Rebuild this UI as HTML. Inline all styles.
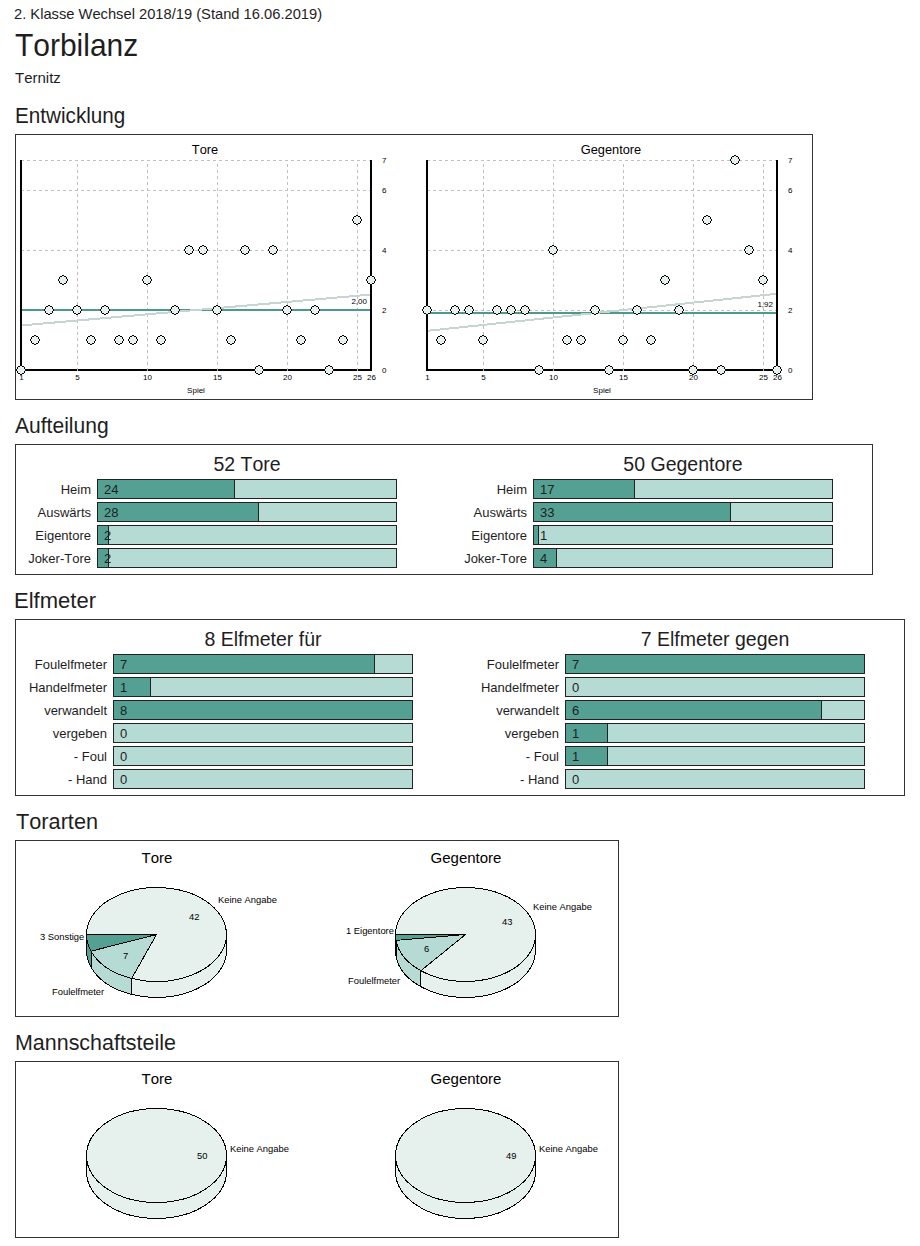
<!DOCTYPE html>
<html><head><meta charset="utf-8"><title>Torbilanz</title>
<style>
html,body{margin:0;padding:0;background:#fff;}
body{width:920px;height:1246px;position:relative;overflow:hidden;font-family:"Liberation Sans",sans-serif;color:#1e1e1e;font-kerning:none;}
.a{position:absolute;white-space:nowrap;line-height:0;margin:0;font-weight:normal;transform-origin:0 0;}
.box{position:absolute;border:1px solid #333;box-sizing:border-box;}
.h2{position:absolute;margin:0;font-weight:normal;font-size:22.5px;line-height:0;white-space:nowrap;transform-origin:0 0;}
.lab{position:absolute;width:200px;text-align:right;font-size:13px;line-height:0;white-space:nowrap;}
.bar{position:absolute;width:300px;height:20px;box-sizing:border-box;border:1px solid #222;background:#b6dbd4;}
.bar .f{position:absolute;left:0;top:0;height:18px;box-sizing:border-box;background:#54a093;border-right:1px solid #222;}
.bar .v{position:absolute;left:6px;top:10px;font-size:13px;line-height:0;}
.ttl{position:absolute;width:300px;text-align:center;font-size:19.5px;line-height:0;white-space:nowrap;}
svg{position:absolute;left:0;top:0;}
svg text{font-family:"Liberation Sans",sans-serif;fill:#000;}
</style></head><body>
<div class="a" style="left:14px;top:14px;font-size:15px;transform:scaleX(0.98)">2. Klasse Wechsel 2018/19 (Stand 16.06.2019)</div>
<h1 class="a" style="left:15px;top:45px;font-size:30.5px;transform:scaleX(0.982)">Torbilanz</h1>
<div class="a" style="left:15px;top:78px;font-size:15px">Ternitz</div>

<h2 class="h2" style="left:15px;top:116px;transform:scaleX(0.919)">Entwicklung</h2>
<div class="box" style="left:15px;top:134px;width:798px;height:266px"></div>
<svg width="920" height="410" viewBox="0 0 920 410">

<line x1="21" y1="310.5" x2="370" y2="310.5" stroke="#c0c0c0" stroke-dasharray="3 3"/>
<line x1="21" y1="250.5" x2="370" y2="250.5" stroke="#c0c0c0" stroke-dasharray="3 3"/>
<line x1="21" y1="190.5" x2="370" y2="190.5" stroke="#c0c0c0" stroke-dasharray="3 3"/>
<line x1="21" y1="160.5" x2="370" y2="160.5" stroke="#c0c0c0" stroke-dasharray="3 3"/>
<rect x="20" y="160" width="2" height="211" fill="#000"/>
<rect x="370" y="160" width="2" height="211" fill="#000"/>
<rect x="20" y="369" width="352" height="2" fill="#000"/>
<line x1="77.5" y1="164" x2="77.5" y2="371" stroke="#c0c0c0" stroke-dasharray="3 3"/>
<line x1="147.5" y1="164" x2="147.5" y2="371" stroke="#c0c0c0" stroke-dasharray="3 3"/>
<line x1="217.5" y1="164" x2="217.5" y2="371" stroke="#c0c0c0" stroke-dasharray="3 3"/>
<line x1="287.5" y1="164" x2="287.5" y2="371" stroke="#c0c0c0" stroke-dasharray="3 3"/>
<line x1="357.5" y1="164" x2="357.5" y2="371" stroke="#c0c0c0" stroke-dasharray="3 3"/>
<rect x="22" y="309" width="348" height="2" fill="#4c9a8b"/>
<line x1="22" y1="325.38" x2="370" y2="294.62" stroke="#c5d5d4" stroke-width="2" shape-rendering="crispEdges"/>
<path d="M20,366h2v1h2v2h1v2h-1v2h-2v1h-2v-1h-2v-2h-1v-2h1v-2h2zM34,336h2v1h2v2h1v2h-1v2h-2v1h-2v-1h-2v-2h-1v-2h1v-2h2zM48,306h2v1h2v2h1v2h-1v2h-2v1h-2v-1h-2v-2h-1v-2h1v-2h2zM62,276h2v1h2v2h1v2h-1v2h-2v1h-2v-1h-2v-2h-1v-2h1v-2h2zM76,306h2v1h2v2h1v2h-1v2h-2v1h-2v-1h-2v-2h-1v-2h1v-2h2zM90,336h2v1h2v2h1v2h-1v2h-2v1h-2v-1h-2v-2h-1v-2h1v-2h2zM104,306h2v1h2v2h1v2h-1v2h-2v1h-2v-1h-2v-2h-1v-2h1v-2h2zM118,336h2v1h2v2h1v2h-1v2h-2v1h-2v-1h-2v-2h-1v-2h1v-2h2zM132,336h2v1h2v2h1v2h-1v2h-2v1h-2v-1h-2v-2h-1v-2h1v-2h2zM146,276h2v1h2v2h1v2h-1v2h-2v1h-2v-1h-2v-2h-1v-2h1v-2h2zM160,336h2v1h2v2h1v2h-1v2h-2v1h-2v-1h-2v-2h-1v-2h1v-2h2zM174,306h2v1h2v2h1v2h-1v2h-2v1h-2v-1h-2v-2h-1v-2h1v-2h2zM188,246h2v1h2v2h1v2h-1v2h-2v1h-2v-1h-2v-2h-1v-2h1v-2h2zM202,246h2v1h2v2h1v2h-1v2h-2v1h-2v-1h-2v-2h-1v-2h1v-2h2zM216,306h2v1h2v2h1v2h-1v2h-2v1h-2v-1h-2v-2h-1v-2h1v-2h2zM230,336h2v1h2v2h1v2h-1v2h-2v1h-2v-1h-2v-2h-1v-2h1v-2h2zM244,246h2v1h2v2h1v2h-1v2h-2v1h-2v-1h-2v-2h-1v-2h1v-2h2zM258,366h2v1h2v2h1v2h-1v2h-2v1h-2v-1h-2v-2h-1v-2h1v-2h2zM272,246h2v1h2v2h1v2h-1v2h-2v1h-2v-1h-2v-2h-1v-2h1v-2h2zM286,306h2v1h2v2h1v2h-1v2h-2v1h-2v-1h-2v-2h-1v-2h1v-2h2zM300,336h2v1h2v2h1v2h-1v2h-2v1h-2v-1h-2v-2h-1v-2h1v-2h2zM314,306h2v1h2v2h1v2h-1v2h-2v1h-2v-1h-2v-2h-1v-2h1v-2h2zM328,366h2v1h2v2h1v2h-1v2h-2v1h-2v-1h-2v-2h-1v-2h1v-2h2zM342,336h2v1h2v2h1v2h-1v2h-2v1h-2v-1h-2v-2h-1v-2h1v-2h2zM356,216h2v1h2v2h1v2h-1v2h-2v1h-2v-1h-2v-2h-1v-2h1v-2h2zM370,276h2v1h2v2h1v2h-1v2h-2v1h-2v-1h-2v-2h-1v-2h1v-2h2z" fill="#e6f0ec" shape-rendering="crispEdges"/>
<path d="M20,365h2v1h-2zM20,374h2v1h-2zM18,366h2v1h-2zM22,366h2v1h-2zM18,373h2v1h-2zM22,373h2v1h-2zM17,367h1v2h-1zM24,367h1v2h-1zM17,371h1v2h-1zM24,371h1v2h-1zM16,369h1v2h-1zM25,369h1v2h-1zM34,335h2v1h-2zM34,344h2v1h-2zM32,336h2v1h-2zM36,336h2v1h-2zM32,343h2v1h-2zM36,343h2v1h-2zM31,337h1v2h-1zM38,337h1v2h-1zM31,341h1v2h-1zM38,341h1v2h-1zM30,339h1v2h-1zM39,339h1v2h-1zM48,305h2v1h-2zM48,314h2v1h-2zM46,306h2v1h-2zM50,306h2v1h-2zM46,313h2v1h-2zM50,313h2v1h-2zM45,307h1v2h-1zM52,307h1v2h-1zM45,311h1v2h-1zM52,311h1v2h-1zM44,309h1v2h-1zM53,309h1v2h-1zM62,275h2v1h-2zM62,284h2v1h-2zM60,276h2v1h-2zM64,276h2v1h-2zM60,283h2v1h-2zM64,283h2v1h-2zM59,277h1v2h-1zM66,277h1v2h-1zM59,281h1v2h-1zM66,281h1v2h-1zM58,279h1v2h-1zM67,279h1v2h-1zM76,305h2v1h-2zM76,314h2v1h-2zM74,306h2v1h-2zM78,306h2v1h-2zM74,313h2v1h-2zM78,313h2v1h-2zM73,307h1v2h-1zM80,307h1v2h-1zM73,311h1v2h-1zM80,311h1v2h-1zM72,309h1v2h-1zM81,309h1v2h-1zM90,335h2v1h-2zM90,344h2v1h-2zM88,336h2v1h-2zM92,336h2v1h-2zM88,343h2v1h-2zM92,343h2v1h-2zM87,337h1v2h-1zM94,337h1v2h-1zM87,341h1v2h-1zM94,341h1v2h-1zM86,339h1v2h-1zM95,339h1v2h-1zM104,305h2v1h-2zM104,314h2v1h-2zM102,306h2v1h-2zM106,306h2v1h-2zM102,313h2v1h-2zM106,313h2v1h-2zM101,307h1v2h-1zM108,307h1v2h-1zM101,311h1v2h-1zM108,311h1v2h-1zM100,309h1v2h-1zM109,309h1v2h-1zM118,335h2v1h-2zM118,344h2v1h-2zM116,336h2v1h-2zM120,336h2v1h-2zM116,343h2v1h-2zM120,343h2v1h-2zM115,337h1v2h-1zM122,337h1v2h-1zM115,341h1v2h-1zM122,341h1v2h-1zM114,339h1v2h-1zM123,339h1v2h-1zM132,335h2v1h-2zM132,344h2v1h-2zM130,336h2v1h-2zM134,336h2v1h-2zM130,343h2v1h-2zM134,343h2v1h-2zM129,337h1v2h-1zM136,337h1v2h-1zM129,341h1v2h-1zM136,341h1v2h-1zM128,339h1v2h-1zM137,339h1v2h-1zM146,275h2v1h-2zM146,284h2v1h-2zM144,276h2v1h-2zM148,276h2v1h-2zM144,283h2v1h-2zM148,283h2v1h-2zM143,277h1v2h-1zM150,277h1v2h-1zM143,281h1v2h-1zM150,281h1v2h-1zM142,279h1v2h-1zM151,279h1v2h-1zM160,335h2v1h-2zM160,344h2v1h-2zM158,336h2v1h-2zM162,336h2v1h-2zM158,343h2v1h-2zM162,343h2v1h-2zM157,337h1v2h-1zM164,337h1v2h-1zM157,341h1v2h-1zM164,341h1v2h-1zM156,339h1v2h-1zM165,339h1v2h-1zM174,305h2v1h-2zM174,314h2v1h-2zM172,306h2v1h-2zM176,306h2v1h-2zM172,313h2v1h-2zM176,313h2v1h-2zM171,307h1v2h-1zM178,307h1v2h-1zM171,311h1v2h-1zM178,311h1v2h-1zM170,309h1v2h-1zM179,309h1v2h-1zM188,245h2v1h-2zM188,254h2v1h-2zM186,246h2v1h-2zM190,246h2v1h-2zM186,253h2v1h-2zM190,253h2v1h-2zM185,247h1v2h-1zM192,247h1v2h-1zM185,251h1v2h-1zM192,251h1v2h-1zM184,249h1v2h-1zM193,249h1v2h-1zM202,245h2v1h-2zM202,254h2v1h-2zM200,246h2v1h-2zM204,246h2v1h-2zM200,253h2v1h-2zM204,253h2v1h-2zM199,247h1v2h-1zM206,247h1v2h-1zM199,251h1v2h-1zM206,251h1v2h-1zM198,249h1v2h-1zM207,249h1v2h-1zM216,305h2v1h-2zM216,314h2v1h-2zM214,306h2v1h-2zM218,306h2v1h-2zM214,313h2v1h-2zM218,313h2v1h-2zM213,307h1v2h-1zM220,307h1v2h-1zM213,311h1v2h-1zM220,311h1v2h-1zM212,309h1v2h-1zM221,309h1v2h-1zM230,335h2v1h-2zM230,344h2v1h-2zM228,336h2v1h-2zM232,336h2v1h-2zM228,343h2v1h-2zM232,343h2v1h-2zM227,337h1v2h-1zM234,337h1v2h-1zM227,341h1v2h-1zM234,341h1v2h-1zM226,339h1v2h-1zM235,339h1v2h-1zM244,245h2v1h-2zM244,254h2v1h-2zM242,246h2v1h-2zM246,246h2v1h-2zM242,253h2v1h-2zM246,253h2v1h-2zM241,247h1v2h-1zM248,247h1v2h-1zM241,251h1v2h-1zM248,251h1v2h-1zM240,249h1v2h-1zM249,249h1v2h-1zM258,365h2v1h-2zM258,374h2v1h-2zM256,366h2v1h-2zM260,366h2v1h-2zM256,373h2v1h-2zM260,373h2v1h-2zM255,367h1v2h-1zM262,367h1v2h-1zM255,371h1v2h-1zM262,371h1v2h-1zM254,369h1v2h-1zM263,369h1v2h-1zM272,245h2v1h-2zM272,254h2v1h-2zM270,246h2v1h-2zM274,246h2v1h-2zM270,253h2v1h-2zM274,253h2v1h-2zM269,247h1v2h-1zM276,247h1v2h-1zM269,251h1v2h-1zM276,251h1v2h-1zM268,249h1v2h-1zM277,249h1v2h-1zM286,305h2v1h-2zM286,314h2v1h-2zM284,306h2v1h-2zM288,306h2v1h-2zM284,313h2v1h-2zM288,313h2v1h-2zM283,307h1v2h-1zM290,307h1v2h-1zM283,311h1v2h-1zM290,311h1v2h-1zM282,309h1v2h-1zM291,309h1v2h-1zM300,335h2v1h-2zM300,344h2v1h-2zM298,336h2v1h-2zM302,336h2v1h-2zM298,343h2v1h-2zM302,343h2v1h-2zM297,337h1v2h-1zM304,337h1v2h-1zM297,341h1v2h-1zM304,341h1v2h-1zM296,339h1v2h-1zM305,339h1v2h-1zM314,305h2v1h-2zM314,314h2v1h-2zM312,306h2v1h-2zM316,306h2v1h-2zM312,313h2v1h-2zM316,313h2v1h-2zM311,307h1v2h-1zM318,307h1v2h-1zM311,311h1v2h-1zM318,311h1v2h-1zM310,309h1v2h-1zM319,309h1v2h-1zM328,365h2v1h-2zM328,374h2v1h-2zM326,366h2v1h-2zM330,366h2v1h-2zM326,373h2v1h-2zM330,373h2v1h-2zM325,367h1v2h-1zM332,367h1v2h-1zM325,371h1v2h-1zM332,371h1v2h-1zM324,369h1v2h-1zM333,369h1v2h-1zM342,335h2v1h-2zM342,344h2v1h-2zM340,336h2v1h-2zM344,336h2v1h-2zM340,343h2v1h-2zM344,343h2v1h-2zM339,337h1v2h-1zM346,337h1v2h-1zM339,341h1v2h-1zM346,341h1v2h-1zM338,339h1v2h-1zM347,339h1v2h-1zM356,215h2v1h-2zM356,224h2v1h-2zM354,216h2v1h-2zM358,216h2v1h-2zM354,223h2v1h-2zM358,223h2v1h-2zM353,217h1v2h-1zM360,217h1v2h-1zM353,221h1v2h-1zM360,221h1v2h-1zM352,219h1v2h-1zM361,219h1v2h-1zM370,275h2v1h-2zM370,284h2v1h-2zM368,276h2v1h-2zM372,276h2v1h-2zM368,283h2v1h-2zM372,283h2v1h-2zM367,277h1v2h-1zM374,277h1v2h-1zM367,281h1v2h-1zM374,281h1v2h-1zM366,279h1v2h-1zM375,279h1v2h-1z" fill="#000" shape-rendering="crispEdges"/>
<text x="205" y="154" font-size="12.8" text-anchor="middle">Tore</text>
<text x="382" y="163" font-size="8">7</text>
<text x="382" y="193" font-size="8">6</text>
<text x="382" y="253" font-size="8">4</text>
<text x="382" y="313" font-size="8">2</text>
<text x="382" y="373" font-size="8">0</text>
<text x="21.5" y="380" font-size="8" text-anchor="middle">1</text>
<text x="77.5" y="380" font-size="8" text-anchor="middle">5</text>
<text x="147.5" y="380" font-size="8" text-anchor="middle">10</text>
<text x="217.5" y="380" font-size="8" text-anchor="middle">15</text>
<text x="287.5" y="380" font-size="8" text-anchor="middle">20</text>
<text x="357.5" y="380" font-size="8" text-anchor="middle">25</text>
<text x="371.5" y="380" font-size="8" text-anchor="middle">26</text>
<text x="196" y="393" font-size="8" text-anchor="middle">Spiel</text>
<text x="367" y="304" font-size="8" text-anchor="end">2,00</text>
<line x1="427" y1="310.5" x2="776" y2="310.5" stroke="#c0c0c0" stroke-dasharray="3 3"/>
<line x1="427" y1="250.5" x2="776" y2="250.5" stroke="#c0c0c0" stroke-dasharray="3 3"/>
<line x1="427" y1="190.5" x2="776" y2="190.5" stroke="#c0c0c0" stroke-dasharray="3 3"/>
<line x1="427" y1="160.5" x2="776" y2="160.5" stroke="#c0c0c0" stroke-dasharray="3 3"/>
<rect x="426" y="160" width="2" height="211" fill="#000"/>
<rect x="776" y="160" width="2" height="211" fill="#000"/>
<rect x="426" y="369" width="352" height="2" fill="#000"/>
<line x1="483.5" y1="164" x2="483.5" y2="371" stroke="#c0c0c0" stroke-dasharray="3 3"/>
<line x1="553.5" y1="164" x2="553.5" y2="371" stroke="#c0c0c0" stroke-dasharray="3 3"/>
<line x1="623.5" y1="164" x2="623.5" y2="371" stroke="#c0c0c0" stroke-dasharray="3 3"/>
<line x1="693.5" y1="164" x2="693.5" y2="371" stroke="#c0c0c0" stroke-dasharray="3 3"/>
<line x1="763.5" y1="164" x2="763.5" y2="371" stroke="#c0c0c0" stroke-dasharray="3 3"/>
<rect x="428" y="312" width="348" height="2" fill="#4c9a8b"/>
<line x1="428" y1="330.77" x2="776" y2="293.85" stroke="#c5d5d4" stroke-width="2" shape-rendering="crispEdges"/>
<path d="M426,306h2v1h2v2h1v2h-1v2h-2v1h-2v-1h-2v-2h-1v-2h1v-2h2zM440,336h2v1h2v2h1v2h-1v2h-2v1h-2v-1h-2v-2h-1v-2h1v-2h2zM454,306h2v1h2v2h1v2h-1v2h-2v1h-2v-1h-2v-2h-1v-2h1v-2h2zM468,306h2v1h2v2h1v2h-1v2h-2v1h-2v-1h-2v-2h-1v-2h1v-2h2zM482,336h2v1h2v2h1v2h-1v2h-2v1h-2v-1h-2v-2h-1v-2h1v-2h2zM496,306h2v1h2v2h1v2h-1v2h-2v1h-2v-1h-2v-2h-1v-2h1v-2h2zM510,306h2v1h2v2h1v2h-1v2h-2v1h-2v-1h-2v-2h-1v-2h1v-2h2zM524,306h2v1h2v2h1v2h-1v2h-2v1h-2v-1h-2v-2h-1v-2h1v-2h2zM538,366h2v1h2v2h1v2h-1v2h-2v1h-2v-1h-2v-2h-1v-2h1v-2h2zM552,246h2v1h2v2h1v2h-1v2h-2v1h-2v-1h-2v-2h-1v-2h1v-2h2zM566,336h2v1h2v2h1v2h-1v2h-2v1h-2v-1h-2v-2h-1v-2h1v-2h2zM580,336h2v1h2v2h1v2h-1v2h-2v1h-2v-1h-2v-2h-1v-2h1v-2h2zM594,306h2v1h2v2h1v2h-1v2h-2v1h-2v-1h-2v-2h-1v-2h1v-2h2zM608,366h2v1h2v2h1v2h-1v2h-2v1h-2v-1h-2v-2h-1v-2h1v-2h2zM622,336h2v1h2v2h1v2h-1v2h-2v1h-2v-1h-2v-2h-1v-2h1v-2h2zM636,306h2v1h2v2h1v2h-1v2h-2v1h-2v-1h-2v-2h-1v-2h1v-2h2zM650,336h2v1h2v2h1v2h-1v2h-2v1h-2v-1h-2v-2h-1v-2h1v-2h2zM664,276h2v1h2v2h1v2h-1v2h-2v1h-2v-1h-2v-2h-1v-2h1v-2h2zM678,306h2v1h2v2h1v2h-1v2h-2v1h-2v-1h-2v-2h-1v-2h1v-2h2zM692,366h2v1h2v2h1v2h-1v2h-2v1h-2v-1h-2v-2h-1v-2h1v-2h2zM706,216h2v1h2v2h1v2h-1v2h-2v1h-2v-1h-2v-2h-1v-2h1v-2h2zM720,366h2v1h2v2h1v2h-1v2h-2v1h-2v-1h-2v-2h-1v-2h1v-2h2zM734,156h2v1h2v2h1v2h-1v2h-2v1h-2v-1h-2v-2h-1v-2h1v-2h2zM748,246h2v1h2v2h1v2h-1v2h-2v1h-2v-1h-2v-2h-1v-2h1v-2h2zM762,276h2v1h2v2h1v2h-1v2h-2v1h-2v-1h-2v-2h-1v-2h1v-2h2zM776,366h2v1h2v2h1v2h-1v2h-2v1h-2v-1h-2v-2h-1v-2h1v-2h2z" fill="#e6f0ec" shape-rendering="crispEdges"/>
<path d="M426,305h2v1h-2zM426,314h2v1h-2zM424,306h2v1h-2zM428,306h2v1h-2zM424,313h2v1h-2zM428,313h2v1h-2zM423,307h1v2h-1zM430,307h1v2h-1zM423,311h1v2h-1zM430,311h1v2h-1zM422,309h1v2h-1zM431,309h1v2h-1zM440,335h2v1h-2zM440,344h2v1h-2zM438,336h2v1h-2zM442,336h2v1h-2zM438,343h2v1h-2zM442,343h2v1h-2zM437,337h1v2h-1zM444,337h1v2h-1zM437,341h1v2h-1zM444,341h1v2h-1zM436,339h1v2h-1zM445,339h1v2h-1zM454,305h2v1h-2zM454,314h2v1h-2zM452,306h2v1h-2zM456,306h2v1h-2zM452,313h2v1h-2zM456,313h2v1h-2zM451,307h1v2h-1zM458,307h1v2h-1zM451,311h1v2h-1zM458,311h1v2h-1zM450,309h1v2h-1zM459,309h1v2h-1zM468,305h2v1h-2zM468,314h2v1h-2zM466,306h2v1h-2zM470,306h2v1h-2zM466,313h2v1h-2zM470,313h2v1h-2zM465,307h1v2h-1zM472,307h1v2h-1zM465,311h1v2h-1zM472,311h1v2h-1zM464,309h1v2h-1zM473,309h1v2h-1zM482,335h2v1h-2zM482,344h2v1h-2zM480,336h2v1h-2zM484,336h2v1h-2zM480,343h2v1h-2zM484,343h2v1h-2zM479,337h1v2h-1zM486,337h1v2h-1zM479,341h1v2h-1zM486,341h1v2h-1zM478,339h1v2h-1zM487,339h1v2h-1zM496,305h2v1h-2zM496,314h2v1h-2zM494,306h2v1h-2zM498,306h2v1h-2zM494,313h2v1h-2zM498,313h2v1h-2zM493,307h1v2h-1zM500,307h1v2h-1zM493,311h1v2h-1zM500,311h1v2h-1zM492,309h1v2h-1zM501,309h1v2h-1zM510,305h2v1h-2zM510,314h2v1h-2zM508,306h2v1h-2zM512,306h2v1h-2zM508,313h2v1h-2zM512,313h2v1h-2zM507,307h1v2h-1zM514,307h1v2h-1zM507,311h1v2h-1zM514,311h1v2h-1zM506,309h1v2h-1zM515,309h1v2h-1zM524,305h2v1h-2zM524,314h2v1h-2zM522,306h2v1h-2zM526,306h2v1h-2zM522,313h2v1h-2zM526,313h2v1h-2zM521,307h1v2h-1zM528,307h1v2h-1zM521,311h1v2h-1zM528,311h1v2h-1zM520,309h1v2h-1zM529,309h1v2h-1zM538,365h2v1h-2zM538,374h2v1h-2zM536,366h2v1h-2zM540,366h2v1h-2zM536,373h2v1h-2zM540,373h2v1h-2zM535,367h1v2h-1zM542,367h1v2h-1zM535,371h1v2h-1zM542,371h1v2h-1zM534,369h1v2h-1zM543,369h1v2h-1zM552,245h2v1h-2zM552,254h2v1h-2zM550,246h2v1h-2zM554,246h2v1h-2zM550,253h2v1h-2zM554,253h2v1h-2zM549,247h1v2h-1zM556,247h1v2h-1zM549,251h1v2h-1zM556,251h1v2h-1zM548,249h1v2h-1zM557,249h1v2h-1zM566,335h2v1h-2zM566,344h2v1h-2zM564,336h2v1h-2zM568,336h2v1h-2zM564,343h2v1h-2zM568,343h2v1h-2zM563,337h1v2h-1zM570,337h1v2h-1zM563,341h1v2h-1zM570,341h1v2h-1zM562,339h1v2h-1zM571,339h1v2h-1zM580,335h2v1h-2zM580,344h2v1h-2zM578,336h2v1h-2zM582,336h2v1h-2zM578,343h2v1h-2zM582,343h2v1h-2zM577,337h1v2h-1zM584,337h1v2h-1zM577,341h1v2h-1zM584,341h1v2h-1zM576,339h1v2h-1zM585,339h1v2h-1zM594,305h2v1h-2zM594,314h2v1h-2zM592,306h2v1h-2zM596,306h2v1h-2zM592,313h2v1h-2zM596,313h2v1h-2zM591,307h1v2h-1zM598,307h1v2h-1zM591,311h1v2h-1zM598,311h1v2h-1zM590,309h1v2h-1zM599,309h1v2h-1zM608,365h2v1h-2zM608,374h2v1h-2zM606,366h2v1h-2zM610,366h2v1h-2zM606,373h2v1h-2zM610,373h2v1h-2zM605,367h1v2h-1zM612,367h1v2h-1zM605,371h1v2h-1zM612,371h1v2h-1zM604,369h1v2h-1zM613,369h1v2h-1zM622,335h2v1h-2zM622,344h2v1h-2zM620,336h2v1h-2zM624,336h2v1h-2zM620,343h2v1h-2zM624,343h2v1h-2zM619,337h1v2h-1zM626,337h1v2h-1zM619,341h1v2h-1zM626,341h1v2h-1zM618,339h1v2h-1zM627,339h1v2h-1zM636,305h2v1h-2zM636,314h2v1h-2zM634,306h2v1h-2zM638,306h2v1h-2zM634,313h2v1h-2zM638,313h2v1h-2zM633,307h1v2h-1zM640,307h1v2h-1zM633,311h1v2h-1zM640,311h1v2h-1zM632,309h1v2h-1zM641,309h1v2h-1zM650,335h2v1h-2zM650,344h2v1h-2zM648,336h2v1h-2zM652,336h2v1h-2zM648,343h2v1h-2zM652,343h2v1h-2zM647,337h1v2h-1zM654,337h1v2h-1zM647,341h1v2h-1zM654,341h1v2h-1zM646,339h1v2h-1zM655,339h1v2h-1zM664,275h2v1h-2zM664,284h2v1h-2zM662,276h2v1h-2zM666,276h2v1h-2zM662,283h2v1h-2zM666,283h2v1h-2zM661,277h1v2h-1zM668,277h1v2h-1zM661,281h1v2h-1zM668,281h1v2h-1zM660,279h1v2h-1zM669,279h1v2h-1zM678,305h2v1h-2zM678,314h2v1h-2zM676,306h2v1h-2zM680,306h2v1h-2zM676,313h2v1h-2zM680,313h2v1h-2zM675,307h1v2h-1zM682,307h1v2h-1zM675,311h1v2h-1zM682,311h1v2h-1zM674,309h1v2h-1zM683,309h1v2h-1zM692,365h2v1h-2zM692,374h2v1h-2zM690,366h2v1h-2zM694,366h2v1h-2zM690,373h2v1h-2zM694,373h2v1h-2zM689,367h1v2h-1zM696,367h1v2h-1zM689,371h1v2h-1zM696,371h1v2h-1zM688,369h1v2h-1zM697,369h1v2h-1zM706,215h2v1h-2zM706,224h2v1h-2zM704,216h2v1h-2zM708,216h2v1h-2zM704,223h2v1h-2zM708,223h2v1h-2zM703,217h1v2h-1zM710,217h1v2h-1zM703,221h1v2h-1zM710,221h1v2h-1zM702,219h1v2h-1zM711,219h1v2h-1zM720,365h2v1h-2zM720,374h2v1h-2zM718,366h2v1h-2zM722,366h2v1h-2zM718,373h2v1h-2zM722,373h2v1h-2zM717,367h1v2h-1zM724,367h1v2h-1zM717,371h1v2h-1zM724,371h1v2h-1zM716,369h1v2h-1zM725,369h1v2h-1zM734,155h2v1h-2zM734,164h2v1h-2zM732,156h2v1h-2zM736,156h2v1h-2zM732,163h2v1h-2zM736,163h2v1h-2zM731,157h1v2h-1zM738,157h1v2h-1zM731,161h1v2h-1zM738,161h1v2h-1zM730,159h1v2h-1zM739,159h1v2h-1zM748,245h2v1h-2zM748,254h2v1h-2zM746,246h2v1h-2zM750,246h2v1h-2zM746,253h2v1h-2zM750,253h2v1h-2zM745,247h1v2h-1zM752,247h1v2h-1zM745,251h1v2h-1zM752,251h1v2h-1zM744,249h1v2h-1zM753,249h1v2h-1zM762,275h2v1h-2zM762,284h2v1h-2zM760,276h2v1h-2zM764,276h2v1h-2zM760,283h2v1h-2zM764,283h2v1h-2zM759,277h1v2h-1zM766,277h1v2h-1zM759,281h1v2h-1zM766,281h1v2h-1zM758,279h1v2h-1zM767,279h1v2h-1zM776,365h2v1h-2zM776,374h2v1h-2zM774,366h2v1h-2zM778,366h2v1h-2zM774,373h2v1h-2zM778,373h2v1h-2zM773,367h1v2h-1zM780,367h1v2h-1zM773,371h1v2h-1zM780,371h1v2h-1zM772,369h1v2h-1zM781,369h1v2h-1z" fill="#000" shape-rendering="crispEdges"/>
<text x="611" y="154" font-size="12.8" text-anchor="middle">Gegentore</text>
<text x="788" y="163" font-size="8">7</text>
<text x="788" y="193" font-size="8">6</text>
<text x="788" y="253" font-size="8">4</text>
<text x="788" y="313" font-size="8">2</text>
<text x="788" y="373" font-size="8">0</text>
<text x="427.5" y="380" font-size="8" text-anchor="middle">1</text>
<text x="483.5" y="380" font-size="8" text-anchor="middle">5</text>
<text x="553.5" y="380" font-size="8" text-anchor="middle">10</text>
<text x="623.5" y="380" font-size="8" text-anchor="middle">15</text>
<text x="693.5" y="380" font-size="8" text-anchor="middle">20</text>
<text x="763.5" y="380" font-size="8" text-anchor="middle">25</text>
<text x="777.5" y="380" font-size="8" text-anchor="middle">26</text>
<text x="602" y="393" font-size="8" text-anchor="middle">Spiel</text>
<text x="773" y="307" font-size="8" text-anchor="end">1,92</text>
</svg>

<h2 class="h2" style="left:15px;top:426px;transform:scaleX(0.936)">Aufteilung</h2>
<div class="box" style="left:15px;top:444px;width:858px;height:131px"></div>
<div class="ttl" style="left:97px;top:464px">52 Tore</div>
<div class="lab" style="left:-109px;top:490px">Heim</div>
<div class="bar" style="left:97px;top:479px"><div class="f" style="width:137px"></div><span class="v">24</span></div>
<div class="lab" style="left:-109px;top:513px">Auswärts</div>
<div class="bar" style="left:97px;top:502px"><div class="f" style="width:161px"></div><span class="v">28</span></div>
<div class="lab" style="left:-109px;top:536px">Eigentore</div>
<div class="bar" style="left:97px;top:525px"><div class="f" style="width:11px"></div><span class="v">2</span></div>
<div class="lab" style="left:-109px;top:559px">Joker-Tore</div>
<div class="bar" style="left:97px;top:548px"><div class="f" style="width:11px"></div><span class="v">2</span></div>
<div class="ttl" style="left:533px;top:464px">50 Gegentore</div>
<div class="lab" style="left:327px;top:490px">Heim</div>
<div class="bar" style="left:533px;top:479px"><div class="f" style="width:101px"></div><span class="v">17</span></div>
<div class="lab" style="left:327px;top:513px">Auswärts</div>
<div class="bar" style="left:533px;top:502px"><div class="f" style="width:197px"></div><span class="v">33</span></div>
<div class="lab" style="left:327px;top:536px">Eigentore</div>
<div class="bar" style="left:533px;top:525px"><div class="f" style="width:5px"></div><span class="v">1</span></div>
<div class="lab" style="left:327px;top:559px">Joker-Tore</div>
<div class="bar" style="left:533px;top:548px"><div class="f" style="width:23px"></div><span class="v">4</span></div>

<h2 class="h2" style="left:14px;top:601px;transform:scaleX(0.979)">Elfmeter</h2>
<div class="box" style="left:15px;top:619px;width:890px;height:177px"></div>
<div class="ttl" style="left:113px;top:639px">8 Elfmeter für</div>
<div class="lab" style="left:-93px;top:665px">Foulelfmeter</div>
<div class="bar" style="left:113px;top:654px"><div class="f" style="width:261px"></div><span class="v">7</span></div>
<div class="lab" style="left:-93px;top:688px">Handelfmeter</div>
<div class="bar" style="left:113px;top:677px"><div class="f" style="width:37px"></div><span class="v">1</span></div>
<div class="lab" style="left:-93px;top:711px">verwandelt</div>
<div class="bar" style="left:113px;top:700px"><div class="f" style="width:298px;border-right:0"></div><span class="v">8</span></div>
<div class="lab" style="left:-93px;top:734px">vergeben</div>
<div class="bar" style="left:113px;top:723px"><span class="v">0</span></div>
<div class="lab" style="left:-93px;top:757px">- Foul</div>
<div class="bar" style="left:113px;top:746px"><span class="v">0</span></div>
<div class="lab" style="left:-93px;top:780px">- Hand</div>
<div class="bar" style="left:113px;top:769px"><span class="v">0</span></div>
<div class="ttl" style="left:565px;top:639px">7 Elfmeter gegen</div>
<div class="lab" style="left:359px;top:665px">Foulelfmeter</div>
<div class="bar" style="left:565px;top:654px"><div class="f" style="width:298px;border-right:0"></div><span class="v">7</span></div>
<div class="lab" style="left:359px;top:688px">Handelfmeter</div>
<div class="bar" style="left:565px;top:677px"><span class="v">0</span></div>
<div class="lab" style="left:359px;top:711px">verwandelt</div>
<div class="bar" style="left:565px;top:700px"><div class="f" style="width:256px"></div><span class="v">6</span></div>
<div class="lab" style="left:359px;top:734px">vergeben</div>
<div class="bar" style="left:565px;top:723px"><div class="f" style="width:42px"></div><span class="v">1</span></div>
<div class="lab" style="left:359px;top:757px">- Foul</div>
<div class="bar" style="left:565px;top:746px"><div class="f" style="width:42px"></div><span class="v">1</span></div>
<div class="lab" style="left:359px;top:780px">- Hand</div>
<div class="bar" style="left:565px;top:769px"><span class="v">0</span></div>

<h2 class="h2" style="left:16px;top:822px;transform:scaleX(0.965)">Torarten</h2>
<div class="box" style="left:15px;top:840px;width:604px;height:177px"></div>
<h2 class="h2" style="left:15px;top:1043px;transform:scaleX(0.953)">Mannschaftsteile</h2>
<div class="box" style="left:15px;top:1061px;width:604px;height:177px"></div>
<svg width="920" height="1246" viewBox="0 0 920 1246">
<text x="157" y="863" font-size="15" text-anchor="middle">Tore</text>
<path d="M86.50,934.50 A70,47 0 0 0 91.05,951.17 L91.05,967.17 A70,47 0 0 1 86.50,950.50 Z" fill="#54a093" stroke="#000" shape-rendering="crispEdges"/>
<path d="M91.05,951.17 A70,47 0 0 0 131.68,978.45 L131.68,994.45 A70,47 0 0 1 91.05,967.17 Z" fill="#b6dbd4" stroke="#000" shape-rendering="crispEdges"/>
<path d="M131.68,978.45 A70,47 0 0 0 226.50,934.50 L226.50,950.50 A70,47 0 0 1 131.68,994.45 Z" fill="#e6f0ec" stroke="#000" shape-rendering="crispEdges"/>
<path d="M156.5,934.5 L86.50,934.50 A70,47 0 0 0 91.05,951.17 Z" fill="#54a093" stroke="#000" stroke-linejoin="bevel" shape-rendering="crispEdges"/>
<path d="M156.5,934.5 L91.05,951.17 A70,47 0 0 0 131.68,978.45 Z" fill="#b6dbd4" stroke="#000" stroke-linejoin="bevel" shape-rendering="crispEdges"/>
<path d="M156.5,934.5 L131.68,978.45 A70,47 0 1 0 86.50,934.50 Z" fill="#e6f0ec" stroke="#000" stroke-linejoin="bevel" shape-rendering="crispEdges"/>
<text x="218" y="903" font-size="9.4">Keine Angabe</text>
<text x="189" y="920" font-size="9.4">42</text>
<text x="40" y="940" font-size="9.4">3 Sonstige</text>
<text x="123" y="959" font-size="9.4">7</text>
<text x="52" y="995" font-size="9.4">Foulelfmeter</text>
<text x="466" y="863" font-size="15" text-anchor="middle">Gegentore</text>
<path d="M395.50,934.50 A70,47 0 0 0 396.05,940.39 L396.05,956.39 A70,47 0 0 1 395.50,950.50 Z" fill="#54a093" stroke="#000" shape-rendering="crispEdges"/>
<path d="M396.05,940.39 A70,47 0 0 0 420.88,970.71 L420.88,986.71 A70,47 0 0 1 396.05,956.39 Z" fill="#b6dbd4" stroke="#000" shape-rendering="crispEdges"/>
<path d="M420.88,970.71 A70,47 0 0 0 535.50,934.50 L535.50,950.50 A70,47 0 0 1 420.88,986.71 Z" fill="#e6f0ec" stroke="#000" shape-rendering="crispEdges"/>
<path d="M465.5,934.5 L395.50,934.50 A70,47 0 0 0 396.05,940.39 Z" fill="#54a093" stroke="#000" stroke-linejoin="bevel" shape-rendering="crispEdges"/>
<path d="M465.5,934.5 L396.05,940.39 A70,47 0 0 0 420.88,970.71 Z" fill="#b6dbd4" stroke="#000" stroke-linejoin="bevel" shape-rendering="crispEdges"/>
<path d="M465.5,934.5 L420.88,970.71 A70,47 0 1 0 395.50,934.50 Z" fill="#e6f0ec" stroke="#000" stroke-linejoin="bevel" shape-rendering="crispEdges"/>
<text x="533" y="910" font-size="9.4">Keine Angabe</text>
<text x="502" y="925" font-size="9.4">43</text>
<text x="346" y="934" font-size="9.4">1 Eigentore</text>
<text x="424" y="952" font-size="9.4">6</text>
<text x="348" y="984" font-size="9.4">Foulelfmeter</text>
<text x="157" y="1084" font-size="15" text-anchor="middle">Tore</text>
<path d="M86.50,1155.50 A70,47 0 0 0 226.50,1155.50 L226.50,1171.50 A70,47 0 0 1 86.50,1171.50 Z" fill="#e6f0ec" stroke="#000" shape-rendering="crispEdges"/>
<ellipse cx="156.5" cy="1155.5" rx="70" ry="47" fill="#e6f0ec" stroke="#000" shape-rendering="crispEdges"/>
<text x="230" y="1152" font-size="9.4">Keine Angabe</text>
<text x="197" y="1159" font-size="9.4">50</text>
<text x="466" y="1084" font-size="15" text-anchor="middle">Gegentore</text>
<path d="M395.50,1155.50 A70,47 0 0 0 535.50,1155.50 L535.50,1171.50 A70,47 0 0 1 395.50,1171.50 Z" fill="#e6f0ec" stroke="#000" shape-rendering="crispEdges"/>
<ellipse cx="465.5" cy="1155.5" rx="70" ry="47" fill="#e6f0ec" stroke="#000" shape-rendering="crispEdges"/>
<text x="539" y="1152" font-size="9.4">Keine Angabe</text>
<text x="506" y="1159" font-size="9.4">49</text>
</svg>
</body></html>
